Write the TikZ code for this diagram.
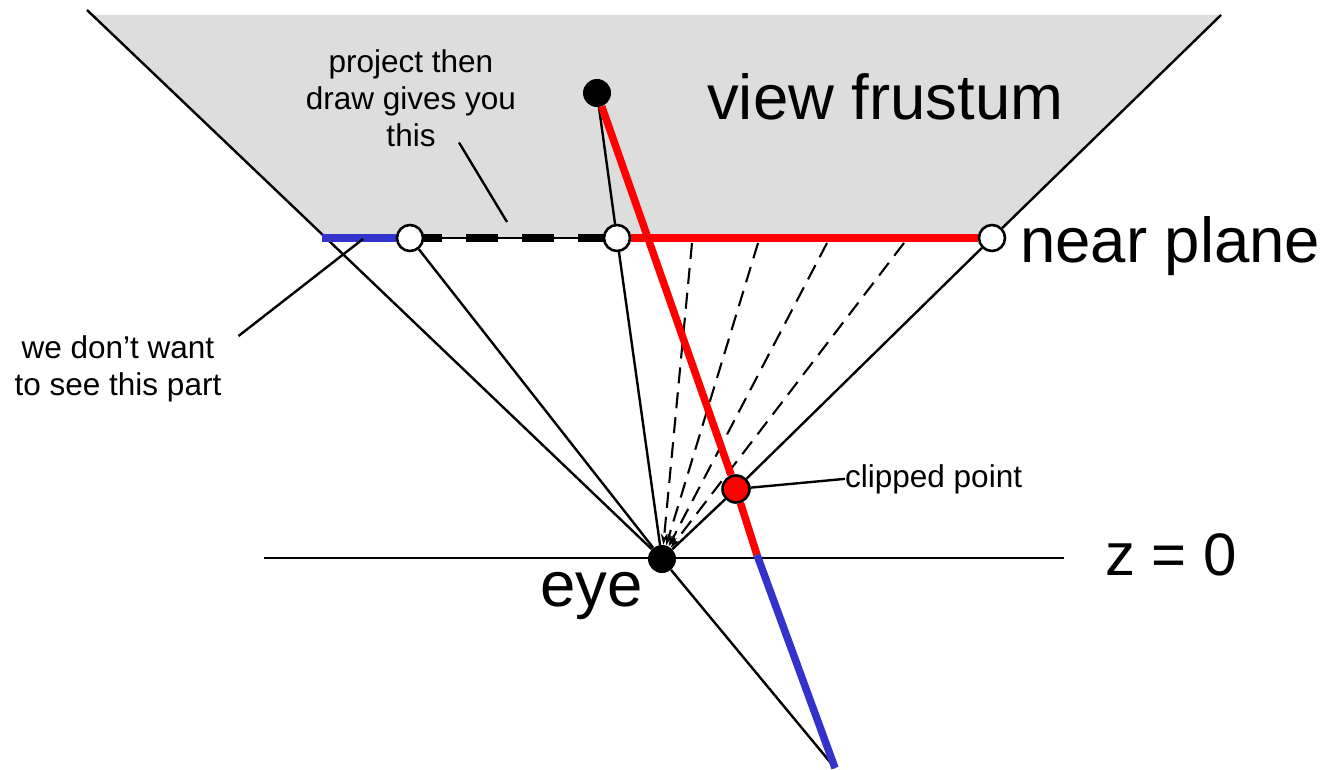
\documentclass[tikz,border=0pt]{standalone}
\usepackage{fontspec}
\setmainfont{Liberation Sans}
\usepackage{tikz}
\usetikzlibrary{arrows.meta,calc,positioning,backgrounds}
\definecolor{frustGray}{RGB}{221,221,221}
\definecolor{behindBlue}{RGB}{51,51,204}
\definecolor{clipRed}{RGB}{255,0,0}
\tikzset{
  ray/.style={line width=2.4pt},
  projray/.style={line width=2.1pt,dash pattern=on 16pt off 9pt,
                  -{Stealth[length=11pt,width=7pt]}},
  fatseg/.style={line width=7.5pt},
  hollowpt/.style={circle,draw,fill=white,line width=2.6pt,minimum size=26pt,inner sep=0pt},
  blackpt/.style={circle,fill=black,minimum size=28pt,inner sep=0pt},
  redpt/.style={circle,draw,fill=clipRed,line width=2.6pt,minimum size=27pt,inner sep=0pt},
  bigtxt/.style={font=\fontsize{63.5}{70}\selectfont,inner sep=0pt},
  smalltxt/.style={font=\fontsize{31.5}{37}\selectfont,align=center,inner sep=0pt},
}

\begin{document}
\begin{tikzpicture}[x=1pt,y=-1pt]
\useasboundingbox (0,0) rectangle (1327,770);

%─── Points ──────────────────────────────────────────────────────────────────
\node[blackpt] (eyept) at (662,559) {};
\node[blackpt] (toppt) at (597,93) {};
\node[hollowpt] (projA) at (410,238) {};
\node[hollowpt] (projB) at (617,238) {};
\node[hollowpt] (nearR) at (992,238) {};
\node[redpt] (clippt) at (736,489) {};
\coordinate (frustL) at (87,10);
\coordinate (frustR) at (1221,15);
\coordinate (nearL) at (326,238);
\coordinate (blueL) at (322,238);
\coordinate (zcross) at (757,555);
\coordinate (tailpt) at (835,768);
\coordinate (zL) at (264,558);
\coordinate (zR) at (1064,558);

%─── Labels ──────────────────────────────────────────────────────────────────
\node[bigtxt,anchor=base west] (lblFrust) at (707,120) {view frustum};
\node[bigtxt,anchor=base west] (lblNear) at (1020,262) {near plane};
\node[bigtxt,anchor=base west] (lblEye) at (540,606) {eye};
\node[bigtxt,anchor=base west,font=\fontsize{60}{70}\selectfont] (lblZ) at (1105,575) {z = 0};
\node[smalltxt,anchor=north] (lblProj) at (411,49) {project then\\draw gives you\\this};
\node[smalltxt,anchor=north] (lblDont) at (118,335) {we don’t want\\to see this part};
\node[smalltxt,anchor=base west] (lblClip) at (845,487) {clipped point};
\coordinate (projTip) at (507,222);
\coordinate (dontTip) at (363,239);

\begin{scope}[on background layer]
  % frustum region
  \fill[frustGray] (93,15) -- (1221,15) -- (nearR.center) -- (nearL) -- cycle;
  \draw[ray] (frustL) -- (nearL) -- (eyept);
  \draw[ray] (frustR) -- (nearR) -- (clippt) -- (eyept);
  \draw[line width=2.6pt] (zL) -- (zR);

  % rays to the eye
  \draw[ray] (toppt) -- (projB) -- (eyept);
  \draw[ray] (projA) -- (eyept) -- (tailpt);
  \foreach \xx in {692,758,827,904}
    \draw[projray] (\xx,243) -- (eyept);

  % the segment, in front of and behind the eye
  \draw[fatseg,clipRed] (toppt) -- (clippt) -- (zcross);
  \draw[fatseg,behindBlue] (zcross) -- (tailpt);

  % what lands on the near plane
  \draw[fatseg,behindBlue] (blueL) -- (projA);
  \draw[ray] (projA) -- (projB);
  \draw[line width=8pt,dash pattern=on 32pt off 24pt] (projA.center) -- (projB.center);
  \draw[fatseg,clipRed] (projB) -- (nearR);

  % pointers
  \draw[ray] ($(lblProj.south)+(48,-4)$) -- (projTip);
  \draw[ray] ($(lblDont.north east)+(17,1)$) -- (dontTip);
  \draw[ray] (clippt) -- (lblClip.west);
\end{scope}

\end{tikzpicture}
\end{document}
